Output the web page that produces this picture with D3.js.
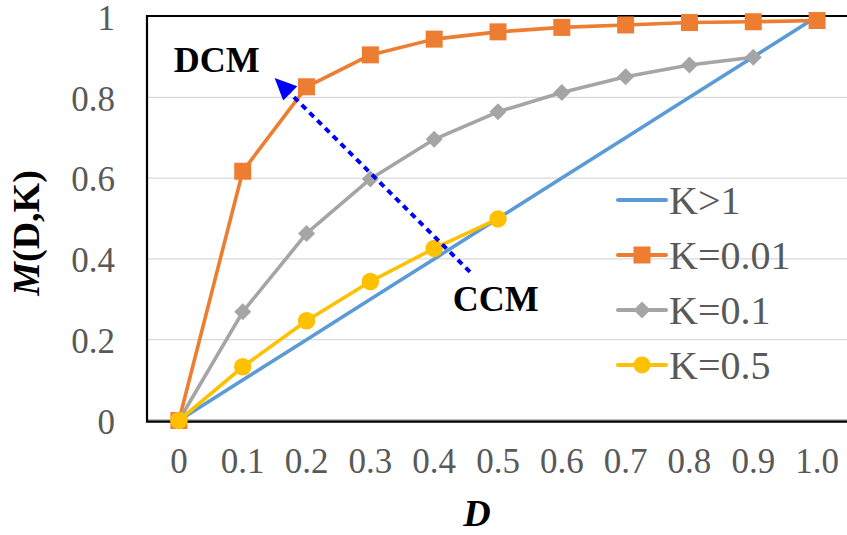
<!DOCTYPE html>
<html>
<head>
<meta charset="utf-8">
<script src="https://cdn.jsdelivr.net/npm/d3@7"></script>
<style>
  html, body { margin: 0; padding: 0; background: #fff; }
  svg { display: block; }
  text { font-family: "Liberation Serif", Tinos, "Times New Roman", serif; }
</style>
</head>
<body>
<svg id="chart" width="847" height="535"></svg>
<script>
// ---- data ----
const categories = ["0", "0.1", "0.2", "0.3", "0.4", "0.5", "0.6", "0.7", "0.8", "0.9", "1.0"];
const seriesNames = ["K>1", "K=0.01", "K=0.1", "K=0.5"];
const valuesKgt1  = [0, 0.1, 0.2, 0.3, 0.4, 0.5, 0.6, 0.7, 0.8, 0.9, 1.0];
const valuesK001  = [0, 0.617, 0.826, 0.905, 0.944, 0.962, 0.973, 0.979, 0.985, 0.987, 0.99];
const valuesK01   = [0, 0.269, 0.463, 0.598, 0.696, 0.764, 0.812, 0.851, 0.880, 0.899, null];
const valuesK05   = [0, 0.133, 0.247, 0.344, 0.426, 0.499, null, null, null, null, null];
const yTicks = [0, 0.2, 0.4, 0.6, 0.8, 1];
const yTickLabels = ["0", "0.2", "0.4", "0.6", "0.8", "1"];
// arrow annotation (data space): from CCM side to DCM side
const arrowFrom = [0.456, 0.368];
const arrowTo   = [0.150, 0.848];
const labelDCM  = { text: "DCM", pos: [-0.008, 0.863] };
const labelCCM  = { text: "CCM", pos: [0.429, 0.27] };

// ---- styles ----
const FONT = "'Liberation Serif', Tinos, 'Times New Roman', serif";
const colors = ["#5B9BD5", "#ED7D31", "#A5A5A5", "#FFC000"];
const markers = ["none", "square", "diamond", "circle"];
const allValues = [valuesKgt1, valuesK001, valuesK01, valuesK05];

const svg = d3.select("#chart");
const plotLeft = 147, plotTop = 16.5, plotBottom = 420.5, plotRight = 849;

const xBand = d3.scaleBand().domain(categories).range([plotLeft, plotRight]).padding(0);
const xc = c => xBand(c) + xBand.bandwidth() / 2;
const xNum = d3.scaleLinear().domain([0, 1]).range([xc("0"), xc("1.0")]);
const y = d3.scaleLinear().domain([0, 1]).range([plotBottom, plotTop]);

// gridlines
svg.append("g")
  .selectAll("line")
  .data(yTicks.filter(t => t > 0 && t < 1))
  .join("line")
  .attr("x1", plotLeft).attr("x2", 847)
  .attr("y1", d => y(d)).attr("y2", d => y(d))
  .attr("stroke", "#D9D9D9").attr("stroke-width", 1.3);

// y axis labels
const yAxis = d3.axisLeft(y).tickValues(yTicks)
  .tickFormat((d, i) => yTickLabels[i]).tickSize(0).tickPadding(32);
const gy = svg.append("g").attr("transform", `translate(${plotLeft},1.5)`).call(yAxis);
gy.attr("font-family", FONT);
gy.select(".domain").remove();
gy.selectAll("text")
  .attr("font-family", FONT)
  .attr("font-size", 35).attr("fill", "#595959");

// x axis labels
const xAxis = d3.axisBottom(xBand).tickSize(0).tickPadding(28);
const gx = svg.append("g").attr("transform", `translate(0,${plotBottom})`).call(xAxis);
gx.attr("font-family", FONT);
gx.select(".domain").remove();
gx.selectAll("text")
  .attr("font-family", FONT)
  .attr("font-size", 35).attr("fill", "#595959");

// frame
svg.append("line").attr("x1", plotLeft).attr("x2", 847).attr("y1", plotBottom - 0.5).attr("y2", plotBottom - 0.5)
  .attr("stroke", "#A6A6A6").attr("stroke-width", 1.5);
svg.append("path")
  .attr("d", `M847,${plotTop - 0.5}H${plotLeft}V${plotBottom + 1.2}H847`)
  .attr("fill", "none").attr("stroke", "#000").attr("stroke-width", 2.2);

// series lines
const line = d3.line()
  .defined(d => d.v !== null)
  .x(d => xc(d.c)).y(d => y(d.v));

function drawMarker(g, type, color, size) {
  if (type === "square") {
    g.append("rect").attr("x", -size / 2).attr("y", -size / 2)
      .attr("width", size).attr("height", size).attr("fill", color);
  } else if (type === "diamond") {
    const s = size * 0.5;
    g.append("path").attr("d", `M0,${-s}L${s},0L0,${s}L${-s},0Z`).attr("fill", color);
  } else if (type === "circle") {
    g.append("circle").attr("r", size / 2).attr("fill", color);
  }
}

const seriesG = svg.append("g");
allValues.forEach((vals, si) => {
  const pts = categories.map((c, i) => ({ c, v: vals[i] }));
  seriesG.append("path").datum(pts)
    .attr("d", line)
    .attr("fill", "none").attr("stroke", colors[si])
    .attr("stroke-width", 3.6).attr("stroke-linejoin", "round").attr("stroke-linecap", "round");
  if (markers[si] !== "none") {
    pts.filter(p => p.v !== null).forEach(p => {
      const g = seriesG.append("g").attr("transform", `translate(${xc(p.c)},${y(p.v)})`);
      drawMarker(g, markers[si], colors[si], markers[si] === "square" ? 17 : (markers[si] === "diamond" ? 17 : 17.5));
    });
  }
});

// arrow annotation
const ax1 = xNum(arrowFrom[0]), ay1 = y(arrowFrom[1]);
const ax2 = xNum(arrowTo[0]), ay2 = y(arrowTo[1]);
const ang = Math.atan2(ay2 - ay1, ax2 - ax1);
const headLen = 22, headW = 10;
const bx = ax2 - headLen * Math.cos(ang), by = ay2 - headLen * Math.sin(ang);
svg.append("line")
  .attr("x1", ax1).attr("y1", ay1).attr("x2", bx).attr("y2", by)
  .attr("stroke", "#0000FF").attr("stroke-width", 4)
  .attr("stroke-dasharray", "6,5");
const px = -Math.sin(ang), py = Math.cos(ang);
svg.append("path")
  .attr("d", `M${ax2},${ay2}L${bx + px * headW},${by + py * headW}L${bx - px * headW},${by - py * headW}Z`)
  .attr("fill", "#0000FF");

// DCM / CCM labels
[labelDCM, labelCCM].forEach(l => {
  svg.append("text")
    .attr("x", xNum(l.pos[0])).attr("y", y(l.pos[1]))
    .attr("font-family", FONT)
    .attr("font-weight", "bold").attr("font-size", 36).attr("fill", "#000")
    .text(l.text);
});

// legend
const legend = svg.append("g").attr("transform", "translate(618,200)");
seriesNames.forEach((name, i) => {
  const g = legend.append("g").attr("transform", `translate(0,${i * 55})`);
  g.append("line").attr("x1", 0).attr("x2", 48).attr("y1", 0).attr("y2", 0)
    .attr("stroke", colors[i]).attr("stroke-width", 4).attr("stroke-linecap", "round");
  if (markers[i] !== "none") {
    const mg = g.append("g").attr("transform", "translate(24,0)");
    drawMarker(mg, markers[i], colors[i], 17);
  }
  g.append("text").attr("x", 51).attr("y", 13.5)
    .attr("font-family", FONT)
    .attr("font-size", 40).attr("fill", "#595959")
    .text(name);
});

// axis titles
const yt = svg.append("text")
  .attr("transform", "translate(39,233) rotate(-90)")
  .attr("text-anchor", "middle")
  .attr("font-family", FONT)
  .attr("font-weight", "bold").attr("font-size", 38).attr("fill", "#000");
yt.append("tspan").attr("font-style", "italic").text("M");
yt.append("tspan").text("(D,K)");

svg.append("text")
  .attr("x", 477).attr("y", 526)
  .attr("text-anchor", "middle")
  .attr("font-family", FONT)
  .attr("font-weight", "bold").attr("font-style", "italic").attr("font-size", 38).attr("fill", "#000")
  .text("D");
</script>
</body>
</html>
